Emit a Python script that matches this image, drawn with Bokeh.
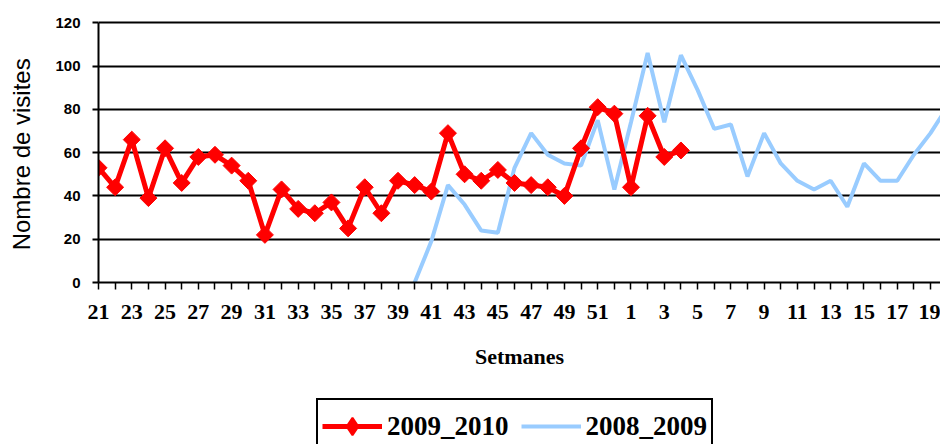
from bokeh.plotting import figure
from bokeh.layouts import column
from bokeh.models import Range1d, FixedTicker, Legend, LegendItem
from bokeh.embed import file_html
from bokeh.resources import INLINE
import numpy as np

# Week categories (season runs from week 21 to week 20 of the next year)
weeks = list(range(21, 53)) + list(range(1, 21))

# 2009_2010 series: weeks 21 .. 4
visits_2009_2010 = [53, 44, 66, 39, 62, 46, 58, 59, 54, 47, 22, 43, 34, 32, 37, 25,
                    44, 32, 47, 45, 42, 69, 50, 47, 52, 46, 45, 44, 40, 62, 81, 78,
                    44, 77, 58, 61]

# 2008_2009 series: weeks 40 .. 20
first_week_2008_2009 = 40
visits_2008_2009 = [0, 19, 45, 36, 24, 23, 53, 69, 59, 55, 54, 75, 43,
                    74, 106, 74, 105, 89, 71, 73, 49, 69, 55, 47, 43, 47, 35,
                    55, 47, 47, 59, 69, 81]

y_ticks = [0, 20, 40, 60, 80, 100, 120]

RED = "#FF0000"
BLUE = "#99CCFF"

idx = list(range(len(weeks)))
x_red = idx[:len(visits_2009_2010)]
i0 = weeks.index(first_week_2008_2009)
x_blue = idx[i0:i0 + len(visits_2008_2009)]

p = figure(width=940, height=395, output_backend="svg", toolbar_location=None,
           x_range=Range1d(0, 50.6), y_range=Range1d(0, 121.5),
           min_border_left=98, min_border_right=0, min_border_top=19,
           min_border_bottom=113)
p.outline_line_color = None
p.background_fill_color = "white"

# grid
p.xgrid.visible = False
p.ygrid.ticker = FixedTicker(ticks=y_ticks)
p.ygrid.grid_line_color = "black"
p.ygrid.grid_line_width = 2

# x axis
p.xaxis.ticker = FixedTicker(ticks=idx)
p.xaxis.major_label_overrides = {i: (str(w) if i % 2 == 0 else "") for i, w in enumerate(weeks)}
p.xaxis.major_tick_in = 0
p.xaxis.major_tick_out = 7
p.xaxis.major_tick_line_width = 1.5
p.xaxis.minor_tick_line_color = None
p.xaxis.axis_line_width = 2
p.xaxis.major_label_text_font = "Liberation Serif"
p.xaxis.major_label_text_font_style = "bold"
p.xaxis.major_label_text_font_size = "22px"
p.xaxis.major_label_text_color = "black"
p.xaxis.major_label_standoff = 15
p.xaxis.axis_label = "Setmanes"
p.xaxis.axis_label_text_font = "Liberation Serif"
p.xaxis.axis_label_text_font_style = "bold"
p.xaxis.axis_label_text_font_size = "22px"
p.xaxis.axis_label_text_color = "black"
p.xaxis.axis_label_standoff = 22

# y axis
p.yaxis.ticker = FixedTicker(ticks=y_ticks)
p.yaxis.bounds = (0, 120)
p.yaxis.major_tick_in = 0
p.yaxis.major_tick_out = 6
p.yaxis.major_tick_line_width = 2
p.yaxis.minor_tick_line_color = None
p.yaxis.axis_line_width = 2
p.yaxis.major_label_text_font = "Liberation Sans"
p.yaxis.major_label_text_font_style = "bold"
p.yaxis.major_label_text_font_size = "15px"
p.yaxis.major_label_text_color = "black"
p.yaxis.major_label_standoff = 12
p.yaxis.axis_label = "Nombre de  visites"
p.yaxis.axis_label_text_font = "Liberation Sans"
p.yaxis.axis_label_text_font_style = "normal"
p.yaxis.axis_label_text_font_size = "24px"
p.yaxis.axis_label_text_color = "black"
p.yaxis.axis_label_standoff = 17

# series
p.line(x_blue, visits_2008_2009, line_color=BLUE, line_width=4)
p.line(x_red, visits_2009_2010, line_color=RED, line_width=5)
p.scatter(x_red, visits_2009_2010, marker="square", angle=np.pi / 4,
          size=12, fill_color=RED, line_color=RED, line_width=1)

# legend strip below the chart; the same series are drawn here outside the
# visible window so that only their legend keys show
q = figure(width=940, height=49, output_backend="svg", toolbar_location=None,
           x_range=Range1d(0, 1), y_range=Range1d(-2, -1),
           x_axis_type=None, y_axis_type=None,
           min_border_left=0, min_border_right=0, min_border_top=0, min_border_bottom=0)
q.outline_line_color = None
q.xgrid.visible = False
q.ygrid.visible = False
k_red_line = q.line(x_red, visits_2009_2010, line_color=RED, line_width=5)
k_red_pt = q.scatter(x_red, visits_2009_2010, marker="diamond", size=21,
                     fill_color=RED, line_color=RED, line_width=2)
k_blue = q.line(x_blue, visits_2008_2009, line_color=BLUE, line_width=4)

legend = Legend(items=[LegendItem(label="2009_2010", renderers=[k_red_line, k_red_pt]),
                       LegendItem(label="2008_2009", renderers=[k_blue])],
                orientation="horizontal", location=(218, -10))
legend.label_text_font = "Liberation Serif"
legend.label_text_font_style = "bold"
legend.label_text_font_size = "27px"
legend.label_text_color = "black"
legend.glyph_width = 60
legend.glyph_height = 44
legend.label_standoff = 5
legend.spacing = 12
legend.padding = 4
legend.margin = 0
legend.border_line_color = "black"
legend.border_line_alpha = 1
legend.border_line_width = 2
legend.background_fill_color = "white"
legend.background_fill_alpha = 1
q.add_layout(legend)

layout = column(p, q, spacing=0)
open("out.html", "w").write(file_html(layout, INLINE))
